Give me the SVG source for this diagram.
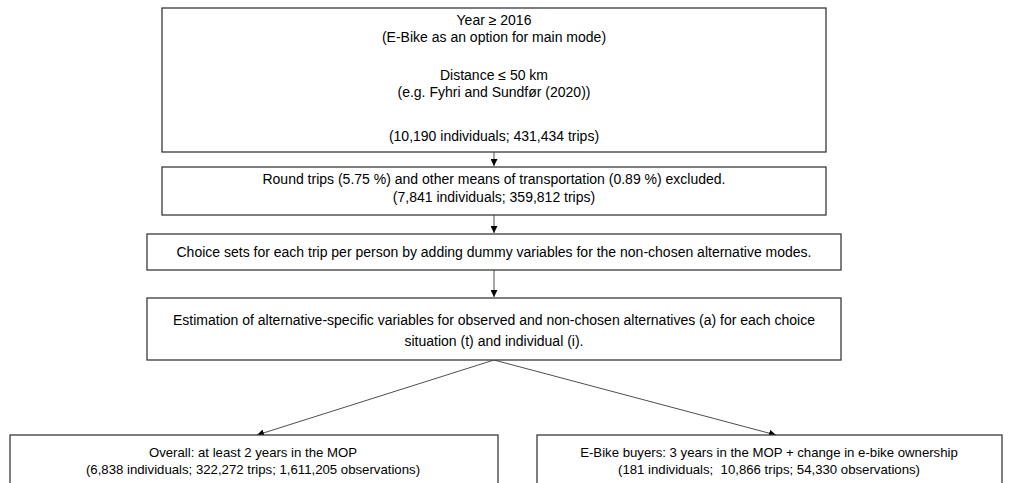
<svg xmlns="http://www.w3.org/2000/svg" width="1011" height="483" viewBox="0 0 1011 483">
<style>
.box{fill:#fff;stroke:#3a3a3a;stroke-width:1.3}
.t{font-family:"Liberation Sans",Arial,sans-serif;font-size:14px;fill:#000;text-anchor:middle}
.s{font-size:13.2px}
.c{stroke:#3a3a3a;stroke-width:0.9;fill:none}
</style>
<defs>
<marker id="ah" viewBox="0 0 10 10" refX="10" refY="5" markerWidth="7" markerHeight="7" markerUnits="userSpaceOnUse" orient="auto">
<path d="M0,0 L10,5 L0,10 z" fill="#000"/>
</marker>
</defs>
<g id="connectors">
<line class="c" x1="494" y1="152" x2="494" y2="166" marker-end="url(#ah)"/>
<line class="c" x1="494" y1="215" x2="494" y2="233" marker-end="url(#ah)"/>
<line class="c" x1="494" y1="270" x2="494" y2="297" marker-end="url(#ah)"/>
<line class="c" x1="494" y1="360" x2="257" y2="435" marker-end="url(#ah)"/>
<line class="c" x1="494" y1="360" x2="776" y2="435" marker-end="url(#ah)"/>
</g>
<g id="n1">
<rect class="box" x="162" y="8" width="664" height="144"/>
<text class="t" x="494" y="25">Year ≥ 2016</text>
<text class="t" x="494" y="42">(E-Bike as an option for main mode)</text>
<text class="t" x="494" y="80">Distance ≤ 50 km</text>
<text class="t" x="494" y="97">(e.g. Fyhri and Sundfør (2020))</text>
<text class="t" x="494" y="141">(10,190 individuals; 431,434 trips)</text>
</g>
<g id="n2">
<rect class="box" x="162" y="167" width="664" height="48"/>
<text class="t" x="494" y="184">Round trips (5.75 %) and other means of transportation (0.89 %) excluded.</text>
<text class="t" x="494" y="202">(7,841 individuals; 359,812 trips)</text>
</g>
<g id="n3">
<rect class="box" x="147" y="234" width="694" height="36"/>
<text class="t" x="494" y="257">Choice sets for each trip per person by adding dummy variables for the non-chosen alternative modes.</text>
</g>
<g id="n4">
<rect class="box" x="147" y="298" width="694" height="62"/>
<text class="t" x="494" y="325">Estimation of alternative-specific variables for observed and non-chosen alternatives (a) for each choice</text>
<text class="t" x="494" y="346">situation (t) and individual (i).</text>
</g>
<g id="n5">
<rect class="box" x="10" y="435" width="488" height="60"/>
<text class="t s" x="253" y="457">Overall: at least 2 years in the MOP</text>
<text class="t s" x="253" y="474">(6,838 individuals; 322,272 trips; 1,611,205 observations)</text>
</g>
<g id="n6">
<rect class="box" x="537" y="435" width="465" height="60"/>
<text class="t s" x="769" y="457">E-Bike buyers: 3 years in the MOP + change in e-bike ownership</text>
<text class="t s" x="769" y="474" xml:space="preserve">(181 individuals;  10,866 trips; 54,330 observations)</text>
</g>
</svg>
